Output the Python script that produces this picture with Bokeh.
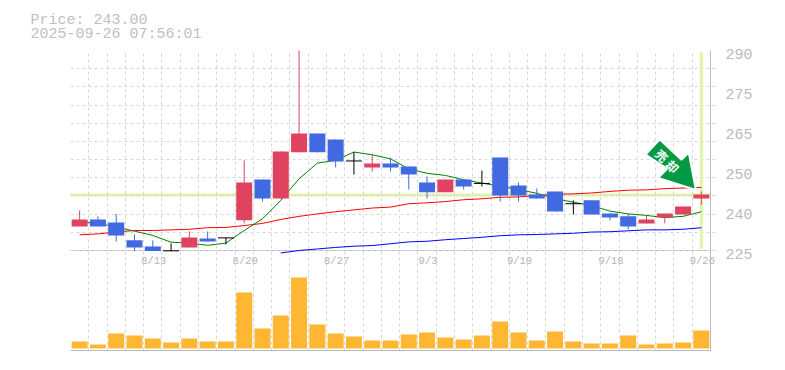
from bokeh.plotting import figure
from bokeh.embed import file_html
from bokeh.resources import INLINE
from bokeh.models import Range1d, LinearAxis, FixedTicker, Span, ColumnDataSource
from bokeh.core.properties import value

nan = float("nan")
title_lines = ["Price: 243.00", "2025-09-26 07:56:01"]
opens  = [232.8,235.1,234.1,228.3,226.3,224.9,226.0,228.9,229.1,234.8,248.1,241.9,256.9,263.0,261.1,254.1,252.0,253.3,252.3,247.1,243.9,248.1,246.8,255.2,246.1,243.2,244.2,240.2,241.3,237.0,236.1,233.8,235.7,236.7,241.9]
closes = [235.1,232.8,229.9,226.0,224.8,224.9,229.2,227.9,229.1,247.1,241.9,257.2,263.0,256.9,253.9,254.1,253.3,252.0,249.7,243.9,248.1,245.8,246.8,242.9,242.9,241.9,237.7,240.2,236.7,235.7,232.8,235.1,237.0,239.3,243.2]
highs  = [238.0,236.1,236.9,230.2,228.3,227.3,231.2,231.2,229.1,254.3,248.1,257.2,295.0,263.0,261.1,257.0,256.2,255.2,252.3,249.1,248.1,248.1,251.0,255.2,247.1,245.2,244.2,241.3,241.3,237.0,237.0,236.4,237.0,239.3,244.2]
lows   = [232.8,232.8,227.9,224.8,224.8,224.8,226.0,227.9,227.0,233.8,240.9,241.9,256.9,256.9,252.0,249.7,250.7,250.7,244.8,241.9,243.9,244.8,245.8,240.9,240.9,241.9,237.7,236.7,236.7,234.8,231.8,233.8,233.8,236.7,239.9]
ma_green = [234.2,233.9,232.6,231.3,229.9,227.7,227.4,226.7,227.4,231.5,235.3,241.3,248.3,253.4,254.3,257.0,256.1,254.8,251.5,250.1,249.4,248.0,246.9,245.9,244.8,243.6,241.8,240.7,239.6,237.8,236.9,236.4,235.7,236.1,237.6]
ma_red = [230.1,230.4,231.0,231.5,231.5,231.7,231.9,232.4,232.5,233.1,233.8,235.1,236.1,236.9,237.6,238.2,238.8,239.1,240.2,240.5,240.9,241.5,241.8,242.3,242.4,242.9,243.3,243.4,243.7,244.2,244.6,244.7,245.1,245.3,245.5]
ma_blue = [nan]*11 + [224.2,225.0,225.5,226.0,226.4,226.6,227.2,227.8,228.0,228.5,228.9,229.3,229.8,230.1,230.2,230.4,230.6,231.0,231.1,231.4,231.7,231.7,231.9,232.4]
volumes = [7,4,15,13,10,6,10,7,7,56,20,33,71,24,15,12,8,8,14,16,11,9,13,27,16,8,17,7,5,5,13,4,5,6,18]
x_tick_idx = [4,9,14,19,24,29,34]
x_tick_labels = ["8/13","8/20","8/27","9/3","9/10","9/18","9/26"]
y_tick_vals = [225,238,251,264,277,290]
y_tick_labels = ["225","240","250","265","275","290"]
last_price = 243.0
arrow_x = [32.23,31.45,32.63,32.14,34.2,33.81,33.41]
arrow_y = [261.1,256.2,251.55,248.6,244.7,256.85,254.5]
arrow_text = ["売","却"]
arrow_text_x = [32.36,32.94]
arrow_text_y = [255.9,252.4]

UP, DOWN, DOJI = "#e0435f", "#4169e1", "#000000"
AXIS, BAND = "#bbbbbb", "#e3f4a9"
n = len(opens)
px_per_slot = 640 / n
overhang = 6          # room past the last slot so that the last tick label is not clipped
xs = [i + 0.5 for i in range(n)]
colors = [DOJI if o == c else (UP if c > o else DOWN) for o, c in zip(opens, closes)]

p = figure(frame_width=640 + overhang, frame_height=300, output_backend="svg", toolbar_location=None,
           x_range=Range1d(0, n + overhang / px_per_slot), y_range=Range1d(192.5, 290),
           min_border_left=70, min_border_top=50, min_border_right=44, min_border_bottom=2,
           outline_line_color=None, background_fill_color="white", border_fill_color="white")
p.extra_y_ranges = {"vol": Range1d(-2, 298), "lab": Range1d(193.475, 290.975)}

p.title.text = "\n".join(title_lines)
p.title.align = "left"
p.title.vertical_align = "top"
p.title.offset = -40
p.title.standoff = 10
p.title.text_font = "Liberation Mono"
p.title.text_font_size = "15px"
p.title.text_font_style = "normal"
p.title.text_color = "#c0c0c0"
p.title.text_line_height = 0.88

p.yaxis.visible = False
for a in p.xaxis:
    a.major_label_text_font_size = "0px"
    a.major_label_text_color = None
    a.major_tick_line_color = None
    a.minor_tick_line_color = None
    a.axis_line_color = AXIS
    a.axis_line_width = 1
    a.major_label_standoff = 0
    a.ticker = FixedTicker(ticks=[])
    a.bounds = (0, n)

p.xgrid.ticker = FixedTicker(ticks=list(range(n + 1)))
p.ygrid.ticker = FixedTicker(ticks=[225 + i * 65 / 11 for i in range(12)])
p.ygrid.bounds = (0, n)
for g in (p.xgrid, p.ygrid):
    g.grid_line_color = "#d6d6d6"
    g.grid_line_dash = "3 3"
    g.grid_line_width = 1

ax = LinearAxis(y_range_name="lab", ticker=FixedTicker(ticks=y_tick_vals),
                major_label_overrides=dict(zip(y_tick_vals, y_tick_labels)),
                major_label_text_font="Liberation Mono", major_label_text_font_size="15px",
                major_label_text_color=AXIS, major_label_standoff=3,
                major_tick_line_color=None, minor_tick_line_color=None,
                axis_line_color=None)
p.add_layout(ax, "right")

p.add_layout(Span(location=n, dimension="height", line_color=AXIS, line_width=1, level="underlay"))
p.segment(x0=[0], x1=[n], y0=[225], y1=[225], line_color=AXIS, line_width=1, level="underlay")
p.segment(x0=[0], x1=[n], y0=[last_price], y1=[last_price], line_color=BAND, line_width=3, level="underlay")
p.segment(x0=[xs[-1]], x1=[xs[-1]], y0=[225.6], y1=[289.5], line_color=BAND, line_width=3)

p.line(xs, ma_red, line_color="#ff0000", line_width=1)
p.line(xs, ma_blue, line_color="#0000ff", line_width=1)
p.line(xs, ma_green, line_color="#008000", line_width=1)

src = ColumnDataSource(dict(x=xs, h=highs, l=lows, col=colors))
p.segment("x", "h", "x", "l", source=src, line_color="col", line_width=1)
body = [i for i, c in enumerate(colors) if c != DOJI]
doji = [i for i, c in enumerate(colors) if c == DOJI]
w = 16 / px_per_slot
p.vbar(x=[xs[i] for i in body], width=w,
       top=[max(opens[i], closes[i]) for i in body], bottom=[min(opens[i], closes[i]) for i in body],
       fill_color=[colors[i] for i in body], line_color=None)
p.segment(x0=[xs[i] - w / 2 for i in doji], x1=[xs[i] + w / 2 for i in doji],
          y0=[opens[i] for i in doji], y1=[opens[i] for i in doji], line_color=DOJI, line_width=1)

p.vbar(x=xs, width=w, top=volumes, bottom=0, y_range_name="vol",
       fill_color="#ffb733", line_color=None)

p.text(x=[xs[i] for i in x_tick_idx], y=[221.6] * len(x_tick_idx), text=x_tick_labels,
       text_font=value("Liberation Mono"), text_font_size="10.5px", text_color="#b4b4b4",
       text_align="center", text_baseline="middle", x_offset=1)

p.patch(arrow_x, arrow_y, fill_color="#009944", line_color="white", line_width=2)
p.text(x=arrow_text_x, y=arrow_text_y, text=arrow_text, angle=-0.785, text_font=value("Noto Sans CJK JP"),
       text_font_size="12px", text_font_style="bold", text_color="white",
       text_align="center", text_baseline="middle")

open("out.html", "w").write(file_html(p, INLINE))
